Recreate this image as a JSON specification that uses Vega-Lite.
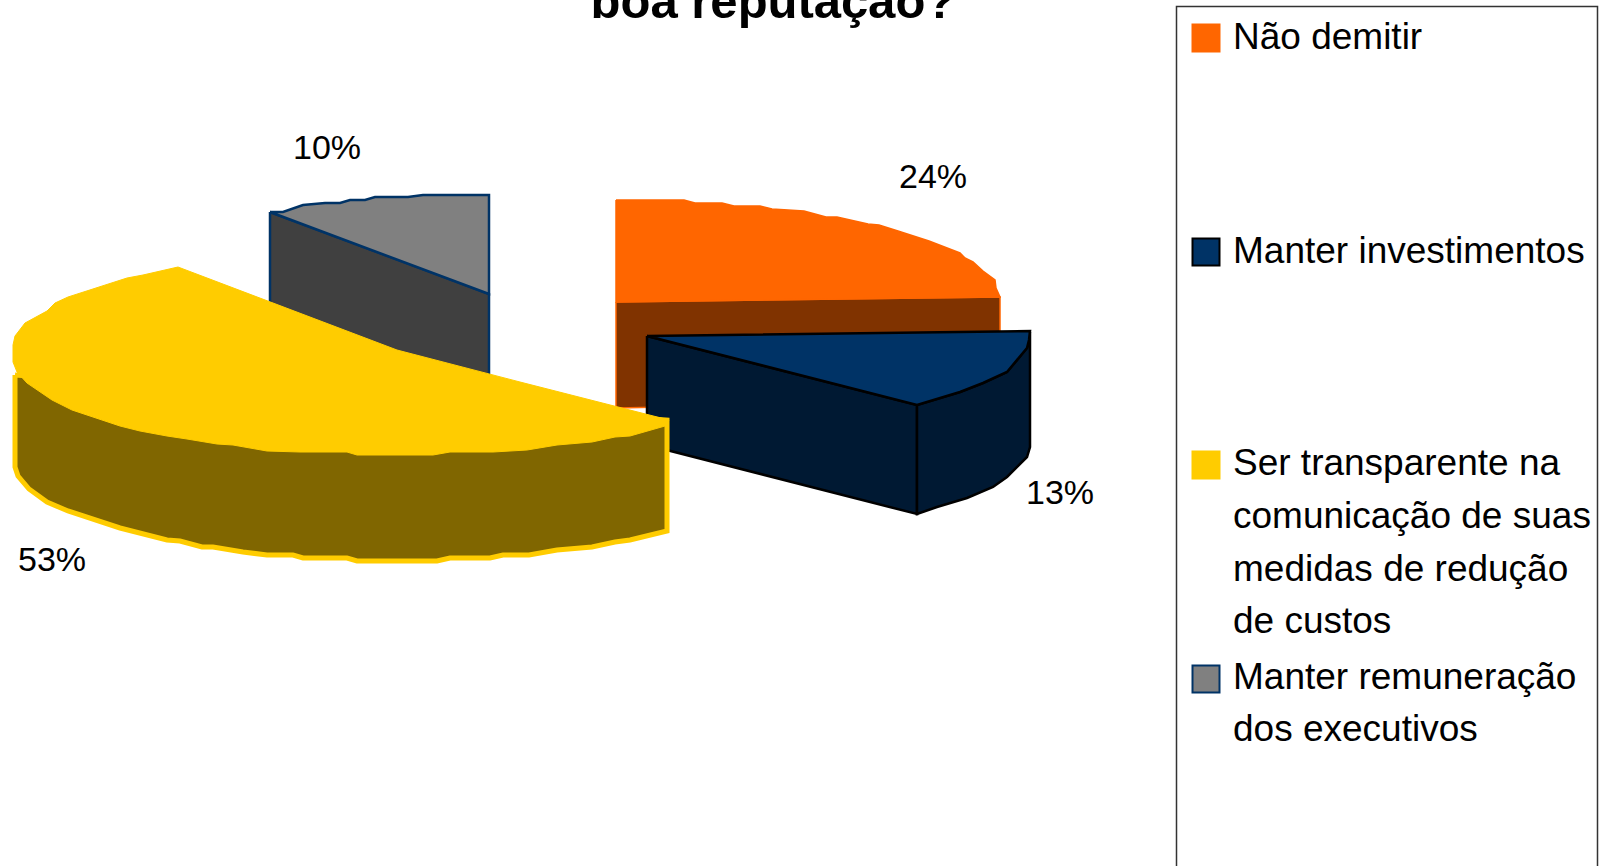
{"$schema":"https://vega.github.io/schema/vega-lite/v6.json","width":1606,"height":866,"autosize":"none","padding":0,"background":"white","view":{"stroke":null},
"datasets":{"faces":[
{"s":"O","f":"Não demitir (lateral)","n":1,"x":616,"y":302},{"s":"O","f":"Não demitir (lateral)","n":2,"x":1000,"y":297},{"s":"O","f":"Não demitir (lateral)","n":3,"x":1000,"y":400},{"s":"O","f":"Não demitir (lateral)","n":4,"x":616,"y":408},{"s":"O","f":"Não demitir (lateral)","n":5,"x":616,"y":302},
{"s":"O","f":"Não demitir","n":1,"x":616,"y":200},{"s":"O","f":"Não demitir","n":2,"x":684,"y":200},{"s":"O","f":"Não demitir","n":3,"x":695,"y":203},{"s":"O","f":"Não demitir","n":4,"x":722,"y":203},{"s":"O","f":"Não demitir","n":5,"x":734,"y":206},{"s":"O","f":"Não demitir","n":6,"x":760,"y":206},{"s":"O","f":"Não demitir","n":7,"x":772,"y":209},{"s":"O","f":"Não demitir","n":8,"x":804,"y":211},{"s":"O","f":"Não demitir","n":9,"x":826,"y":217},{"s":"O","f":"Não demitir","n":10,"x":837,"y":217},{"s":"O","f":"Não demitir","n":11,"x":868,"y":224},{"s":"O","f":"Não demitir","n":12,"x":879,"y":225},{"s":"O","f":"Não demitir","n":13,"x":898,"y":231},{"s":"O","f":"Não demitir","n":14,"x":929,"y":241},{"s":"O","f":"Não demitir","n":15,"x":960,"y":253},{"s":"O","f":"Não demitir","n":16,"x":965,"y":258},{"s":"O","f":"Não demitir","n":17,"x":973,"y":262},{"s":"O","f":"Não demitir","n":18,"x":983,"y":271},{"s":"O","f":"Não demitir","n":19,"x":995,"y":280},{"s":"O","f":"Não demitir","n":20,"x":996,"y":288},{"s":"O","f":"Não demitir","n":21,"x":1000,"y":297},{"s":"O","f":"Não demitir","n":22,"x":616,"y":302},{"s":"O","f":"Não demitir","n":23,"x":616,"y":200},
{"s":"B","f":"Manter investimentos (lateral)","n":1,"x":647,"y":336},{"s":"B","f":"Manter investimentos (lateral)","n":2,"x":917,"y":405},{"s":"B","f":"Manter investimentos (lateral)","n":3,"x":917,"y":514},{"s":"B","f":"Manter investimentos (lateral)","n":4,"x":647,"y":445},{"s":"B","f":"Manter investimentos (lateral)","n":5,"x":647,"y":336},
{"s":"B","f":"Manter investimentos (arco)","n":1,"x":917,"y":405},{"s":"B","f":"Manter investimentos (arco)","n":2,"x":960,"y":392},{"s":"B","f":"Manter investimentos (arco)","n":3,"x":983,"y":383},{"s":"B","f":"Manter investimentos (arco)","n":4,"x":1007,"y":372},{"s":"B","f":"Manter investimentos (arco)","n":5,"x":1027,"y":348},{"s":"B","f":"Manter investimentos (arco)","n":6,"x":1029,"y":340},{"s":"B","f":"Manter investimentos (arco)","n":7,"x":1030,"y":332},{"s":"B","f":"Manter investimentos (arco)","n":8,"x":1030,"y":447},{"s":"B","f":"Manter investimentos (arco)","n":9,"x":1027,"y":457},{"s":"B","f":"Manter investimentos (arco)","n":10,"x":1007,"y":477},{"s":"B","f":"Manter investimentos (arco)","n":11,"x":993,"y":487},{"s":"B","f":"Manter investimentos (arco)","n":12,"x":967,"y":498},{"s":"B","f":"Manter investimentos (arco)","n":13,"x":937,"y":507},{"s":"B","f":"Manter investimentos (arco)","n":14,"x":917,"y":514},{"s":"B","f":"Manter investimentos (arco)","n":15,"x":917,"y":405},
{"s":"B","f":"Manter investimentos","n":1,"x":647,"y":336},{"s":"B","f":"Manter investimentos","n":2,"x":1030,"y":331},{"s":"B","f":"Manter investimentos","n":3,"x":1029,"y":340},{"s":"B","f":"Manter investimentos","n":4,"x":1027,"y":348},{"s":"B","f":"Manter investimentos","n":5,"x":1007,"y":372},{"s":"B","f":"Manter investimentos","n":6,"x":983,"y":383},{"s":"B","f":"Manter investimentos","n":7,"x":960,"y":392},{"s":"B","f":"Manter investimentos","n":8,"x":917,"y":405},{"s":"B","f":"Manter investimentos","n":9,"x":647,"y":336},
{"s":"G","f":"Manter remuneração (lateral)","n":1,"x":270,"y":212},{"s":"G","f":"Manter remuneração (lateral)","n":2,"x":489,"y":294},{"s":"G","f":"Manter remuneração (lateral)","n":3,"x":489,"y":385},{"s":"G","f":"Manter remuneração (lateral)","n":4,"x":270,"y":305},{"s":"G","f":"Manter remuneração (lateral)","n":5,"x":270,"y":212},
{"s":"G","f":"Manter remuneração","n":1,"x":270,"y":212},{"s":"G","f":"Manter remuneração","n":2,"x":283,"y":212},{"s":"G","f":"Manter remuneração","n":3,"x":303,"y":205},{"s":"G","f":"Manter remuneração","n":4,"x":325,"y":203},{"s":"G","f":"Manter remuneração","n":5,"x":340,"y":203},{"s":"G","f":"Manter remuneração","n":6,"x":350,"y":200},{"s":"G","f":"Manter remuneração","n":7,"x":365,"y":200},{"s":"G","f":"Manter remuneração","n":8,"x":375,"y":197},{"s":"G","f":"Manter remuneração","n":9,"x":408,"y":197},{"s":"G","f":"Manter remuneração","n":10,"x":423,"y":195},{"s":"G","f":"Manter remuneração","n":11,"x":489,"y":195},{"s":"G","f":"Manter remuneração","n":12,"x":489,"y":294},{"s":"G","f":"Manter remuneração","n":13,"x":270,"y":212},
{"s":"Y1","f":"Ser transparente (lateral)","n":1,"x":15,"y":375},{"s":"Y1","f":"Ser transparente (lateral)","n":2,"x":15,"y":467},{"s":"Y1","f":"Ser transparente (lateral)","n":3,"x":18,"y":476},{"s":"Y1","f":"Ser transparente (lateral)","n":4,"x":29,"y":489},{"s":"Y1","f":"Ser transparente (lateral)","n":5,"x":47,"y":502},{"s":"Y1","f":"Ser transparente (lateral)","n":6,"x":68,"y":511},{"s":"Y1","f":"Ser transparente (lateral)","n":7,"x":120,"y":528},{"s":"Y1","f":"Ser transparente (lateral)","n":8,"x":167,"y":540},{"s":"Y1","f":"Ser transparente (lateral)","n":9,"x":180,"y":541},{"s":"Y1","f":"Ser transparente (lateral)","n":10,"x":202,"y":547},{"s":"Y1","f":"Ser transparente (lateral)","n":11,"x":213,"y":547},{"s":"Y1","f":"Ser transparente (lateral)","n":12,"x":243,"y":552},{"s":"Y1","f":"Ser transparente (lateral)","n":13,"x":267,"y":555},{"s":"Y1","f":"Ser transparente (lateral)","n":14,"x":293,"y":555},{"s":"Y1","f":"Ser transparente (lateral)","n":15,"x":303,"y":558},{"s":"Y1","f":"Ser transparente (lateral)","n":16,"x":347,"y":558},{"s":"Y1","f":"Ser transparente (lateral)","n":17,"x":357,"y":561},{"s":"Y1","f":"Ser transparente (lateral)","n":18,"x":437,"y":561},{"s":"Y1","f":"Ser transparente (lateral)","n":19,"x":450,"y":558},{"s":"Y1","f":"Ser transparente (lateral)","n":20,"x":490,"y":558},{"s":"Y1","f":"Ser transparente (lateral)","n":21,"x":503,"y":555},{"s":"Y1","f":"Ser transparente (lateral)","n":22,"x":529,"y":555},{"s":"Y1","f":"Ser transparente (lateral)","n":23,"x":557,"y":550},{"s":"Y1","f":"Ser transparente (lateral)","n":24,"x":592,"y":547},{"s":"Y1","f":"Ser transparente (lateral)","n":25,"x":615,"y":542},{"s":"Y1","f":"Ser transparente (lateral)","n":26,"x":630,"y":540},{"s":"Y1","f":"Ser transparente (lateral)","n":27,"x":667,"y":531},{"s":"Y1","f":"Ser transparente (lateral)","n":28,"x":667,"y":420},{"s":"Y1","f":"Ser transparente (lateral)","n":29,"x":15,"y":375},
{"s":"Y2","f":"Ser transparente","n":1,"x":178,"y":267},{"s":"Y2","f":"Ser transparente","n":2,"x":143,"y":275},{"s":"Y2","f":"Ser transparente","n":3,"x":127,"y":278},{"s":"Y2","f":"Ser transparente","n":4,"x":68,"y":297},{"s":"Y2","f":"Ser transparente","n":5,"x":55,"y":303},{"s":"Y2","f":"Ser transparente","n":6,"x":47,"y":311},{"s":"Y2","f":"Ser transparente","n":7,"x":25,"y":323},{"s":"Y2","f":"Ser transparente","n":8,"x":15,"y":336},{"s":"Y2","f":"Ser transparente","n":9,"x":13,"y":345},{"s":"Y2","f":"Ser transparente","n":10,"x":13,"y":362},{"s":"Y2","f":"Ser transparente","n":11,"x":17,"y":372},{"s":"Y2","f":"Ser transparente","n":12,"x":27,"y":383},{"s":"Y2","f":"Ser transparente","n":13,"x":52,"y":400},{"s":"Y2","f":"Ser transparente","n":14,"x":72,"y":410},{"s":"Y2","f":"Ser transparente","n":15,"x":120,"y":426},{"s":"Y2","f":"Ser transparente","n":16,"x":140,"y":431},{"s":"Y2","f":"Ser transparente","n":17,"x":167,"y":436},{"s":"Y2","f":"Ser transparente","n":18,"x":187,"y":439},{"s":"Y2","f":"Ser transparente","n":19,"x":217,"y":444},{"s":"Y2","f":"Ser transparente","n":20,"x":233,"y":445},{"s":"Y2","f":"Ser transparente","n":21,"x":267,"y":451},{"s":"Y2","f":"Ser transparente","n":22,"x":300,"y":452},{"s":"Y2","f":"Ser transparente","n":23,"x":347,"y":452},{"s":"Y2","f":"Ser transparente","n":24,"x":357,"y":455},{"s":"Y2","f":"Ser transparente","n":25,"x":433,"y":455},{"s":"Y2","f":"Ser transparente","n":26,"x":450,"y":452},{"s":"Y2","f":"Ser transparente","n":27,"x":493,"y":452},{"s":"Y2","f":"Ser transparente","n":28,"x":510,"y":451},{"s":"Y2","f":"Ser transparente","n":29,"x":527,"y":450},{"s":"Y2","f":"Ser transparente","n":30,"x":557,"y":445},{"s":"Y2","f":"Ser transparente","n":31,"x":592,"y":442},{"s":"Y2","f":"Ser transparente","n":32,"x":615,"y":437},{"s":"Y2","f":"Ser transparente","n":33,"x":630,"y":436},{"s":"Y2","f":"Ser transparente","n":34,"x":665,"y":426},{"s":"Y2","f":"Ser transparente","n":35,"x":669,"y":420},{"s":"Y2","f":"Ser transparente","n":36,"x":520,"y":382},{"s":"Y2","f":"Ser transparente","n":37,"x":397,"y":350},{"s":"Y2","f":"Ser transparente","n":38,"x":178,"y":267}
],
"labels":[{"t":"24%","x":899,"y":188},{"t":"13%","x":1026,"y":504},{"t":"53%","x":18,"y":571},{"t":"10%","x":293,"y":159}],
"legendtext":[{"t":"Não demitir","x":1233,"y":49},{"t":"Manter investimentos","x":1233,"y":263},{"t":"Ser transparente na","x":1233,"y":475},{"t":"comunicação de suas","x":1233,"y":528},{"t":"medidas de redução","x":1233,"y":581},{"t":"de custos","x":1233,"y":633},{"t":"Manter remuneração","x":1233,"y":689},{"t":"dos executivos","x":1233,"y":741}],
"legendsym":[{"s":"O","f":"Não demitir","x":1206,"y":38},{"s":"B","f":"Manter investimentos","x":1206,"y":252},{"s":"Y2","f":"Ser transparente","x":1206,"y":465},{"s":"G","f":"Manter remuneração","x":1206,"y":679}],
"title":[{"t":"boa reputação?","x":773,"y":18}],
"box":[{"x":1176.5,"x2":1597.5,"y":6.5,"y2":900}]},
"encoding":{"x":{"field":"x","type":"quantitative","scale":{"domain":[0,1606]},"axis":null},"y":{"field":"y","type":"quantitative","scale":{"domain":[866,0]},"axis":null}},
"layer":[
{"data":{"name":"box"},"mark":{"type":"rect","fill":"transparent","stroke":"#333333","strokeWidth":1.5,"clip":true},"encoding":{"x2":{"field":"x2"},"y2":{"field":"y2"}}},
{"data":{"name":"faces"},"transform":[{"filter":"datum.s=='O'"}],"mark":{"type":"line","strokeWidth":1.5},"encoding":{"fill":{"field":"f","type":"nominal","scale":{"domain":["Não demitir","Não demitir (lateral)","Manter investimentos","Manter investimentos (lateral)","Manter investimentos (arco)","Manter remuneração","Manter remuneração (lateral)","Ser transparente","Ser transparente (lateral)"],"range":["#FF6600","#803300","#003366","#001933","#001933","#808080","#404040","#FFCC00","#806600"]},"legend":null},"stroke":{"field":"s","type":"nominal","scale":{"domain":["O","B","G","Y1","Y2"],"range":["#FF6600","#000000","#003366","#FFCC00","#FFCC00"]},"legend":null},"order":{"field":"n"}}},
{"data":{"name":"faces"},"transform":[{"filter":"datum.s=='B'"}],"mark":{"type":"line","strokeWidth":2.5},"encoding":{"fill":{"field":"f","type":"nominal","legend":null},"stroke":{"field":"s","type":"nominal","legend":null},"order":{"field":"n"}}},
{"data":{"name":"faces"},"transform":[{"filter":"datum.s=='G'"}],"mark":{"type":"line","strokeWidth":2.5},"encoding":{"fill":{"field":"f","type":"nominal","legend":null},"stroke":{"field":"s","type":"nominal","legend":null},"order":{"field":"n"}}},
{"data":{"name":"faces"},"transform":[{"filter":"datum.s=='Y1'"}],"mark":{"type":"line","strokeWidth":5},"encoding":{"fill":{"field":"f","type":"nominal","legend":null},"stroke":{"field":"s","type":"nominal","legend":null},"order":{"field":"n"}}},
{"data":{"name":"faces"},"transform":[{"filter":"datum.s=='Y2'"}],"mark":{"type":"line","strokeWidth":1},"encoding":{"fill":{"field":"f","type":"nominal","legend":null},"stroke":{"field":"s","type":"nominal","legend":null},"order":{"field":"n"}}},
{"data":{"name":"legendsym"},"mark":{"type":"point","shape":"square","filled":true,"size":729,"strokeWidth":2,"opacity":1},"encoding":{"fill":{"field":"f","type":"nominal","legend":null},"stroke":{"field":"s","type":"nominal","legend":null}}},
{"data":{"name":"labels"},"mark":{"type":"text","font":"Liberation Sans","fontSize":34,"align":"left","baseline":"alphabetic","color":"#000000"},"encoding":{"text":{"field":"t"}}},
{"data":{"name":"legendtext"},"mark":{"type":"text","font":"Liberation Sans","fontSize":37,"align":"left","baseline":"alphabetic","color":"#000000"},"encoding":{"text":{"field":"t"}}},
{"data":{"name":"title"},"mark":{"type":"text","font":"Liberation Sans","fontWeight":"bold","fontSize":49,"align":"center","baseline":"alphabetic","color":"#000000"},"encoding":{"text":{"field":"t"}}}
]}
